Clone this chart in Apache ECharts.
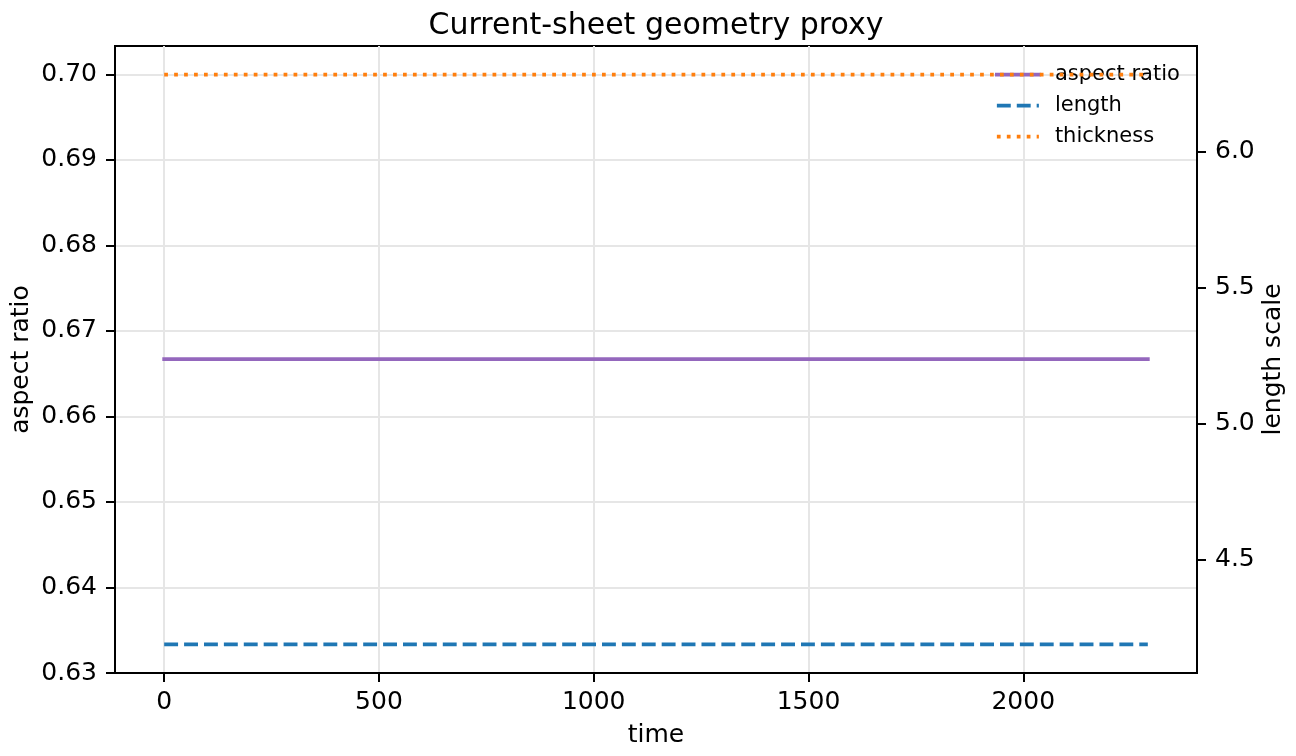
<!DOCTYPE html>
<html>
<head>
<meta charset="utf-8">
<script src="https://cdn.jsdelivr.net/npm/echarts@6/dist/echarts.min.js"></script>
<style>
html,body{margin:0;padding:0;background:#fff;}
#chart{width:1296px;height:756px;}
</style>
</head>
<body>
<div id="chart"></div>
<script>
// ---- data ----
var times = [0, 2290];
var aspectRatio = [0.6667, 0.6667];
var lengthScale = [4.189, 4.189];
var thickness = [6.283, 6.283];

var xTicks = [0, 500, 1000, 1500, 2000];
var leftTicks = [0.63, 0.64, 0.65, 0.66, 0.67, 0.68, 0.69, 0.70];
var rightTicks = [4.5, 5.0, 5.5, 6.0];

var FONT = 'DejaVu Sans';

function pairs(xs, ys) {
  return xs.map(function (x, i) { return [x, ys[i]]; });
}

var chart = echarts.init(document.getElementById('chart'), null, {renderer: 'canvas'});

var option = {
  backgroundColor: '#ffffff',
  animation: false,
  title: {
    text: 'Current-sheet geometry proxy',
    left: 656,
    textAlign: 'center',
    top: 11,
    padding: 0,
    textStyle: {fontFamily: FONT, fontSize: 30, fontWeight: 'normal', color: '#000'}
  },
  legend: {
    left: 995,
    top: 64,
    orient: 'vertical',
    padding: 0,
    itemWidth: 42,
    itemHeight: 14,
    itemGap: 10,
    itemStyle: {opacity: 0},
    lineStyle: {width: 3.75},
    textStyle: {fontFamily: FONT, fontSize: 21, color: '#000', lineHeight: 21, padding: [0, 0, 0, 11]},
    data: ['aspect ratio', 'length', 'thickness']
  },
  grid: {
    left: 115, right: 99, top: 46, bottom: 83,
    containLabel: false,
    outerBoundsMode: 'none',
    show: true, borderColor: '#000', borderWidth: 2, backgroundColor: 'transparent'
  },
  xAxis: {
    type: 'value',
    min: -114.5,
    max: 2404.5,
    name: 'time',
    nameLocation: 'middle',
    nameGap: 50,
    nameMoveOverlap: false,
    nameTextStyle: {fontFamily: FONT, fontSize: 25, color: '#000'},
    axisLine: {show: true, onZero: false, lineStyle: {color: '#000', width: 2}},
    axisTick: {show: true, length: 9, lineStyle: {color: '#000', width: 2}, customValues: xTicks},
    axisLabel: {fontFamily: FONT, fontSize: 25, color: '#000', margin: 17, customValues: xTicks,
      formatter: function (v) { return String(Math.round(v)); }},
    splitLine: {show: true, lineStyle: {color: '#e6e6e6', width: 2}}
  },
  yAxis: [
    {
      type: 'value',
      position: 'left',
      min: 0.63,
      max: 0.703333,
      name: 'aspect ratio',
      nameLocation: 'middle',
      nameRotate: 90,
      nameGap: 81,
      nameMoveOverlap: false,
      nameTextStyle: {fontFamily: FONT, fontSize: 25, color: '#000'},
      axisLine: {show: true, onZero: false, lineStyle: {color: '#000', width: 2}},
      axisTick: {show: true, length: 9, lineStyle: {color: '#000', width: 2}, customValues: leftTicks},
      axisLabel: {fontFamily: FONT, fontSize: 25, color: '#000', margin: 18, customValues: leftTicks,
        formatter: function (v) { return v.toFixed(2); }},
      splitLine: {show: true, lineStyle: {color: '#e6e6e6', width: 2}}
    },
    {
      type: 'value',
      position: 'right',
      min: 4.0841,
      max: 6.3879,
      name: 'length scale',
      nameLocation: 'middle',
      nameRotate: 90,
      nameGap: 64,
      nameMoveOverlap: false,
      nameTextStyle: {fontFamily: FONT, fontSize: 25, color: '#000'},
      axisLine: {show: true, onZero: false, lineStyle: {color: '#000', width: 2}},
      axisTick: {show: true, length: 9, lineStyle: {color: '#000', width: 2}, customValues: rightTicks},
      axisLabel: {fontFamily: FONT, fontSize: 25, color: '#000', margin: 18, customValues: rightTicks,
        formatter: function (v) { return v.toFixed(1); }},
      splitLine: {show: false}
    }
  ],
  series: [
    {
      name: 'aspect ratio',
      type: 'line',
      yAxisIndex: 0,
      data: pairs(times, aspectRatio),
      symbol: 'none',
      z: 5,
      color: '#9467bd',
      lineStyle: {color: '#9467bd', width: 3.75, type: 'solid', cap: 'square'}
    },
    {
      name: 'length',
      type: 'line',
      yAxisIndex: 1,
      data: pairs(times, lengthScale),
      symbol: 'none',
      z: 6,
      color: '#1f77b4',
      lineStyle: {color: '#1f77b4', width: 3.75, type: [13.9, 6], cap: 'butt'}
    },
    {
      name: 'thickness',
      type: 'line',
      yAxisIndex: 1,
      data: pairs(times, thickness),
      symbol: 'none',
      z: 7,
      color: '#ff7f0e',
      lineStyle: {color: '#ff7f0e', width: 3.75, type: [3.75, 6.2], cap: 'butt'}
    }
  ]
};

chart.setOption(option);
</script>
</body>
</html>
